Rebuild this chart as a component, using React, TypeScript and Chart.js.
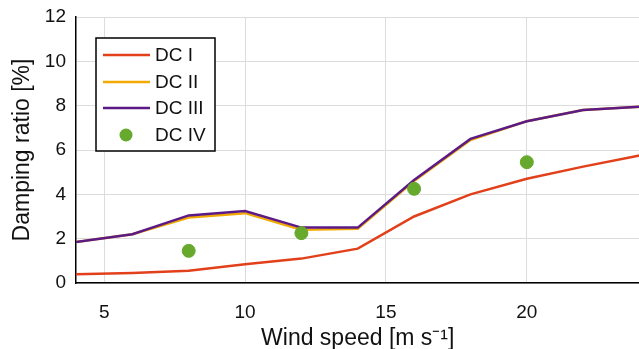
import React, { useEffect, useRef } from "react";
import { Chart, registerables } from "chart.js";

Chart.register(...registerables);

const windSpeed = [4, 6, 8, 10, 12, 14, 16, 18, 20, 22, 24];
const dc1 = [0.4, 0.45, 0.55, 0.85, 1.1, 1.55, 3.0, 4.0, 4.7, 5.25, 5.75];
const dc2 = [1.85, 2.2, 2.95, 3.15, 2.4, 2.45, 4.6, 6.45, 7.3, 7.8, 7.95];
const dc3 = [1.85, 2.2, 3.05, 3.25, 2.5, 2.5, 4.65, 6.5, 7.3, 7.8, 7.95];
const dc4Speed = [8, 12, 16, 20];
const dc4 = [1.45, 2.25, 4.25, 5.45];
const xTicks = [5, 10, 15, 20];
const yTicks = [0, 2, 4, 6, 8, 10, 12];
const seriesNames = ["DC I", "DC II", "DC III", "DC IV"];

const FONT = "Arial, 'Liberation Sans', sans-serif";
const colors = ["#e2401a", "#f2a900", "#5b1a86", "#66a92c"];

const legendPlugin = {
  id: "boxLegend",
  afterDraw(chart: any) {
    const ctx = chart.ctx;
    const x0 = 96, y0 = 38, w = 119, h = 113;
    ctx.save();
    ctx.fillStyle = "#fff";
    ctx.fillRect(x0, y0, w, h);
    ctx.strokeStyle = "#000";
    ctx.lineWidth = 1.5;
    ctx.strokeRect(x0, y0, w, h);
    const rows = [55, 82, 108, 135];
    ctx.font = `19px ${FONT}`;
    ctx.textBaseline = "middle";
    rows.forEach((ry, i) => {
      if (i < 3) {
        ctx.strokeStyle = colors[i];
        ctx.lineWidth = 2.5;
        ctx.beginPath();
        ctx.moveTo(103, ry);
        ctx.lineTo(150, ry);
        ctx.stroke();
      } else {
        ctx.fillStyle = colors[3];
        ctx.beginPath();
        ctx.arc(126, ry, 6.5, 0, Math.PI * 2);
        ctx.fill();
      }
      ctx.fillStyle = "#111";
      ctx.fillText(seriesNames[i], 155, ry + 1);
    });
    ctx.restore();
  },
};

export default function App() {
  const ref = useRef<HTMLCanvasElement>(null);
  useEffect(() => {
    const lineDs = (label: string, data: number[], color: string) => ({
      label,
      data: windSpeed.map((x, i) => ({ x, y: data[i] })),
      borderColor: color,
      backgroundColor: color,
      borderWidth: 2.5,
      showLine: true,
      pointRadius: 0,
      tension: 0,
    });
    const chart = new Chart(ref.current!, {
      type: "scatter",
      data: {
        datasets: [
          {
            label: seriesNames[3],
            data: dc4Speed.map((x, i) => ({ x, y: dc4[i] })),
            backgroundColor: colors[3],
            borderColor: colors[3],
            pointRadius: 6.5,
            pointStyle: "circle",
            showLine: false,
          },
          lineDs(seriesNames[2], dc3, colors[2]),
          lineDs(seriesNames[1], dc2, colors[1]),
          lineDs(seriesNames[0], dc1, colors[0]),
        ],
      },
      options: {
        animation: false,
        responsive: false,
        maintainAspectRatio: false,
        layout: { padding: { top: 17, right: 0, left: 0, bottom: 0 } },
        plugins: { legend: { display: false }, tooltip: { enabled: false } },
        scales: {
          x: {
            type: "linear",
            min: 4,
            max: 24,
            afterBuildTicks: (s: any) => {
              s.ticks = xTicks.map((v) => ({ value: v }));
            },
            afterFit: (s: any) => {
              s.height = 66;
              s.paddingLeft = 0;
              s.paddingRight = 0;
            },
            grid: { color: "#dcdcdc", lineWidth: 1, drawTicks: false },
            border: { color: "#000", width: 1.5 },
            ticks: {
              font: { family: FONT, size: 19 },
              color: "#111",
              padding: 18,
              maxRotation: 0,
            },
            title: {
              display: true,
              text: "Wind speed [m s⁻¹]",
              font: { family: FONT, size: 23 },
              color: "#111",
              padding: { top: 4, bottom: -3 },
            },
          },
          y: {
            min: 0,
            max: 12,
            afterBuildTicks: (s: any) => {
              s.ticks = yTicks.map((v) => ({ value: v }));
            },
            afterFit: (s: any) => {
              s.width = 76;
              s.paddingTop = 0;
              s.paddingBottom = 0;
            },
            grid: { color: "#dcdcdc", lineWidth: 1, drawTicks: false },
            border: { color: "#000", width: 1.5 },
            ticks: {
              font: { family: FONT, size: 19 },
              color: "#111",
              padding: 10,
            },
            title: {
              display: true,
              text: "Damping ratio [%]",
              font: { family: FONT, size: 23 },
              color: "#111",
              padding: { top: 9, bottom: 0 },
            },
          },
        },
      },
      plugins: [legendPlugin],
    });
    return () => chart.destroy();
  }, []);
  return (
    <div style={{ position: "fixed", left: 0, top: 0, width: 639, height: 349, background: "#fff", overflow: "hidden" }}>
      <canvas ref={ref} width={647} height={349} style={{ width: 647, height: 349, display: "block" }} />
    </div>
  );
}
